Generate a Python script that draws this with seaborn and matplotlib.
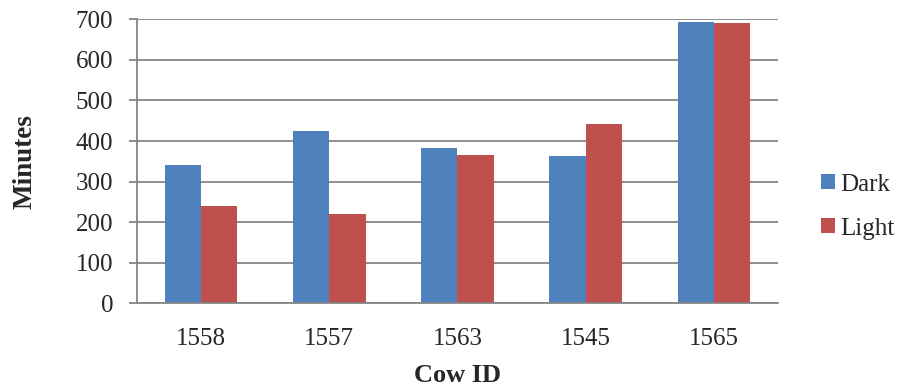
import pandas as pd
import matplotlib.pyplot as plt
import seaborn as sns

cows = ["1558", "1557", "1563", "1545", "1565"]
dark = [340, 424, 382, 363, 693]
light = [239, 221, 365, 442, 690]

sns.set_style('white')
plt.rcParams['font.family'] = ['Liberation Serif', 'DejaVu Serif']

df = pd.DataFrame({
    "Cow ID": cows * 2,
    "Minutes": dark + light,
    "Group": ["Dark"] * len(cows) + ["Light"] * len(cows),
})

fig = plt.figure(figsize=(9.01, 3.9), dpi=100)
ax = fig.add_axes([0.152, 0.2223, 0.7115, 0.7282])

sns.barplot(data=df, x="Cow ID", y="Minutes", hue="Group", order=cows,
            hue_order=["Dark", "Light"], palette=["#4F81BD", "#C0504D"],
            width=0.567, gap=0, saturation=1, linewidth=0, ax=ax)

ax.set_ylim(0, 700)
ax.set_xlim(-0.5, len(cows) - 0.5)
ax.set_yticks(range(0, 701, 100))
ax.yaxis.grid(True, color='#868686', linewidth=1.3)
ax.set_axisbelow(True)

for s in ['top', 'right']:
    ax.spines[s].set_visible(False)
for s in ['left', 'bottom']:
    ax.spines[s].set_color('#868686')
    ax.spines[s].set_linewidth(1.3)

# category boundaries get the tick marks, labels sit in the middle
ax.set_xticks([i - 0.5 for i in range(len(cows) + 1)], minor=True)
ax.tick_params(axis='x', which='minor', length=6, width=1.3, color='#868686', direction='out')
ax.tick_params(axis='x', which='major', length=0, labelsize=18, pad=18)
ax.tick_params(axis='y', length=6, width=1.3, color='#868686', direction='out', labelsize=18, pad=11, left=True)

ax.set_xlabel("Cow ID", fontsize=19, fontweight='bold', va='center')
ax.set_ylabel("Minutes", fontsize=19.5, fontweight='bold', va='center')
ax.xaxis.set_label_coords(0.5, (303.3 - 375) / 284)
ax.yaxis.set_label_coords((25 - 137) / 641, 0.5)

handles, labels = ax.get_legend_handles_labels()
ax.legend(handles, labels, loc='center left', bbox_to_anchor=(0.911, 0.4705),
          bbox_transform=fig.transFigure, frameon=False, fontsize=18,
          handlelength=0.56, handleheight=0.56, handletextpad=0.22, labelspacing=0.88,
          borderaxespad=0, borderpad=0)

fig.savefig("out.png", dpi=100)
